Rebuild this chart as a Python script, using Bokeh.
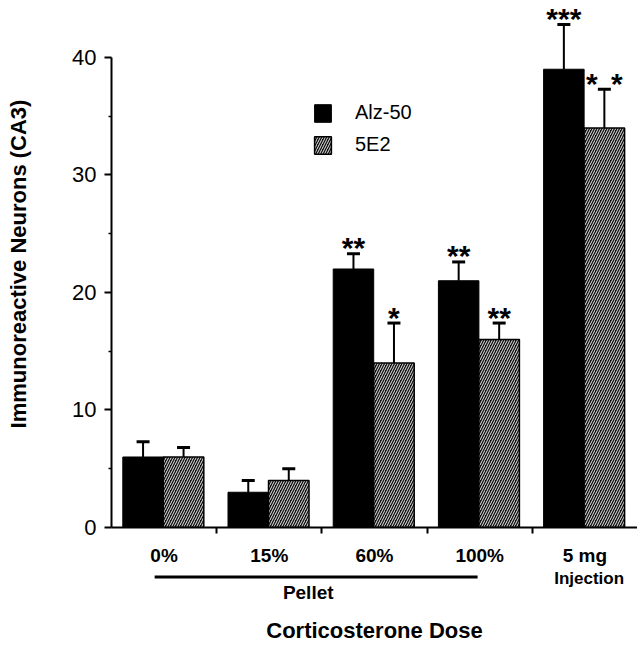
import numpy as np
from bokeh.plotting import figure
from bokeh.layouts import column
from bokeh.models import (Range1d, LinearAxis, FixedTicker, ColumnDataSource, Whisker,
                          TeeHead, Legend, LegendItem)
from bokeh.core.properties import value
from bokeh.embed import file_html
from bokeh.resources import INLINE

# ---- data ----
categories = ["0%", "15%", "60%", "100%", "5 mg"]
alz50 = [6, 3, 22, 21, 39]
alz50_err = [1.3, 1.0, 1.3, 1.6, 3.8]
e2 = [6, 4, 14, 16, 34]
e2_err = [0.8, 1.0, 3.4, 1.4, 3.3]
alz50_sig = ["", "", "**", "**", "***"]
e2_sig = ["", "", "*", "**", "* *"]
y_ticks = [0, 10, 20, 30, 40]
y_minor = [5, 15, 25, 35]
series_names = ["Alz-50", "5E2"]
group_pellet = ["0%", "15%", "60%", "100%"]
group_injection = ["5 mg"]

FONT = "Liberation Sans"
n = len(categories)
centers = np.arange(n) + 0.5
OFF_A, OFF_B, BW = -0.2, 0.185, 0.385

W = 637
TOP_H = 570
BOT_H = 645 - TOP_H

xr = Range1d(0, n)
p = figure(width=W, height=TOP_H, output_backend="svg", toolbar_location=None,
           x_range=xr, y_range=Range1d(0, 44.85),
           x_axis_type=None, y_axis_type=None,
           min_border_left=111, min_border_right=0, min_border_top=0,
           min_border_bottom=TOP_H - 527)
p.outline_line_color = None

# ---- axes ----
yaxis = LinearAxis(ticker=FixedTicker(ticks=y_ticks, minor_ticks=y_minor), bounds=(0, 40))
yaxis.axis_label = "Immunoreactive Neurons (CA3)"
yaxis.axis_label_text_font = FONT
yaxis.axis_label_text_font_style = "bold"
yaxis.axis_label_text_font_size = "22px"
yaxis.axis_label_text_color = "black"
yaxis.axis_label_standoff = 38
yaxis.major_label_text_font = FONT
yaxis.major_label_text_font_size = "22px"
yaxis.major_label_text_color = "black"
yaxis.major_label_standoff = 8
yaxis.axis_line_width = 2
yaxis.major_tick_line_width = 2
yaxis.major_tick_out = 7
yaxis.major_tick_in = 0
yaxis.minor_tick_out = 3
yaxis.minor_tick_in = 0
yaxis.minor_tick_line_width = 1.5
p.add_layout(yaxis, "left")

xaxis = LinearAxis(ticker=FixedTicker(ticks=list(centers), minor_ticks=list(range(1, n))))
xaxis.major_label_overrides = {float(c): cat for c, cat in zip(centers, categories)}
xaxis.major_label_text_font = FONT
xaxis.major_label_text_font_style = "bold"
xaxis.major_label_text_font_size = "19px"
xaxis.major_label_text_color = "black"
xaxis.major_label_standoff = 11
xaxis.major_tick_out = 0
xaxis.major_tick_in = 0
xaxis.minor_tick_out = 6
xaxis.minor_tick_in = 0
xaxis.minor_tick_line_width = 2
xaxis.axis_line_width = 2
p.add_layout(xaxis, "below")

# ---- bars ----
src = ColumnDataSource(dict(
    xa=centers + OFF_A, xb=centers + OFF_B,
    alz=alz50, e2=e2,
    alz_up=np.array(alz50) + np.array(alz50_err),
    e2_up=np.array(e2) + np.array(e2_err),
))
r_a = p.vbar(x="xa", top="alz", bottom=0, width=BW, source=src,
             fill_color="black", line_color="black", line_width=1)
r_b = p.vbar(x="xb", top="e2", bottom=0, width=BW, source=src,
             fill_color="#111111", line_color="black", line_width=1.5,
             hatch_pattern="/", hatch_color="white", hatch_scale=5, hatch_weight=0.9)

# ---- error bars (upper only) ----
for xcol, lo, up in (("xa", "alz", "alz_up"), ("xb", "e2", "e2_up")):
    w = Whisker(source=src, base=xcol, lower=lo, upper=up, dimension="height",
                line_color="black", line_width=2,
                upper_head=TeeHead(size=13, line_width=3, line_color="black"),
                lower_head=None)
    p.add_layout(w)

# ---- significance stars ----
sx, sy, st, sdx = [], [], [], []
for i in range(n):
    for off, vals, errs, sig in ((OFF_A, alz50, alz50_err, alz50_sig),
                                 (OFF_B, e2, e2_err, e2_sig)):
        if not sig[i]:
            continue
        parts = sig[i].split(" ")
        for k, part in enumerate(parts):
            sx.append(centers[i] + off)
            sy.append(vals[i] + errs[i])
            st.append(part)
            sdx.append(0 if len(parts) == 1 else (-12.5 if k == 0 else 12.5))
star_src = ColumnDataSource(dict(x=sx, y=sy, t=st, dx=sdx))
p.text(x="x", y="y", text="t", x_offset="dx", y_offset=-6, source=star_src,
       text_font=value(FONT), text_font_style="bold", text_font_size="30px",
       text_align="center", text_baseline="alphabetic", text_color="black")

# ---- legend ----
legend = Legend(items=[LegendItem(label=series_names[0], renderers=[r_a]),
                       LegendItem(label=series_names[1], renderers=[r_b])],
                location=(201, 371), glyph_width=21, glyph_height=22,
                label_text_font=FONT, label_text_font_size="20px", label_standoff=22,
                label_text_color="black",
                spacing=9, padding=0, margin=0, border_line_color=None,
                background_fill_alpha=0)
p.add_layout(legend)

# ---- lower strip: group bracket and x-axis title ----
q = figure(width=W, height=BOT_H, output_backend="svg", toolbar_location=None,
           x_range=xr, y_range=Range1d(BOT_H - 25, 0),
           x_axis_type=None, y_axis_type=None,
           min_border_left=111, min_border_right=0, min_border_top=0, min_border_bottom=25)
q.outline_line_color = None
qax = LinearAxis(ticker=FixedTicker(ticks=[]))
qax.axis_line_color = None
qax.major_tick_line_color = None
qax.minor_tick_line_color = None
qax.axis_label = "Corticosterone Dose"
qax.axis_label_text_font = FONT
qax.axis_label_text_font_style = "bold"
qax.axis_label_text_font_size = "22px"
qax.axis_label_text_color = "black"
qax.axis_label_standoff = 0
q.add_layout(qax, "below")

first = categories.index(group_pellet[0])
last = categories.index(group_pellet[-1])
inj = categories.index(group_injection[0])
q.segment(x0=[first + 0.41], x1=[last + 0.48], y0=[7], y1=[7], line_width=3, line_color="black")
q.text(x=[first + 1.87], y=[23], text=["Pellet"], text_align="center", text_baseline="middle",
       text_font=value(FONT), text_font_style="bold", text_font_size="19px", text_color="black")
q.text(x=[inj + 0.54], y=[8], text=["Injection"], text_align="center", text_baseline="middle",
       text_font=value(FONT), text_font_style="bold", text_font_size="17px", text_color="black")

layout = column(p, q, spacing=0)
open("out.html", "w").write(file_html(layout, INLINE))
